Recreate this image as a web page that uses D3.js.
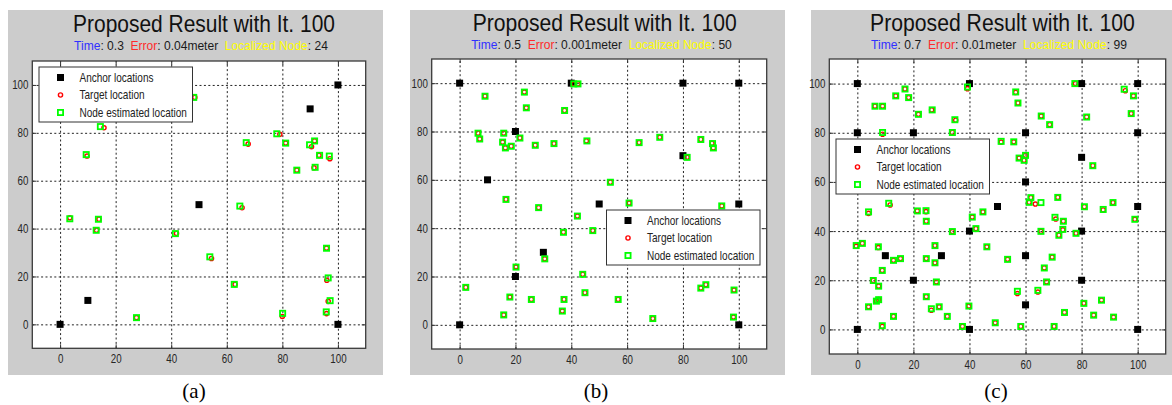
<!DOCTYPE html>
<html>
<head>
<meta charset="utf-8">
<script src="https://cdn.jsdelivr.net/npm/d3@7"></script>
<style>
body{margin:0;background:#fff;}
svg{display:block;font-family:"Liberation Sans",Arial,sans-serif;}
</style>
</head>
<body>
<section></section>
<script>
//axis ticks and legend text
var ticks = [0, 20, 40, 60, 80, 100];
var legendLabels = ["Anchor locations", "Target location", "Node estimated location"];
var captions = ["(a)", "(b)", "(c)"];
var titleText = "Proposed Result with It. 100";
var times = ["0.3", "0.5", "0.7"];
var errors = ["0.04", "0.001", "0.01"];
var localized = ["24", "50", "99"];

//anchor nodes [x, y]
var anchorsA = [[0,0],[10,10],[50,50],[90,90],[100,100],[100,0]];
var anchorsB = [[0,100],[40,100],[80,100],[100,100],[20,80],[10,60],[80,70],[50,50],[100,50],[30,30],[20,20],[0,0],[100,0]];
var anchorsC = [[0,100],[40,100],[80,100],[100,100],[0,80],[20,80],[60,80],[100,80],[80,70],[60,60],[50,50],[100,50],
	[40,40],[80,40],[10,30],[30,30],[60,30],[20,20],[80,20],[60,10],[0,0],[40,0],[100,0]];

//nodes [estimated x, estimated y, target x, target y]
var nodesA = [
	[48.1,94.8,48.5,94.8],[14.5,82.6,15.8,82.1],[9.4,70.9,9.7,70.3],[3.5,44.1,3.5,44.5],[13.8,43.9,14.0,43.9],
	[13.0,39.3,13.1,39.3],[27.5,2.8,27.5,2.8],[41.5,37.9,41.9,38.0],[53.9,28.2,54.5,27.5],[62.7,16.7,63.0,16.7],
	[64.7,49.4,65.5,48.7],[67.0,75.9,67.7,75.3],[78.0,79.6,79.1,79.4],[81.2,75.7,81.2,75.7],[85.2,64.4,85.2,64.4],
	[89.8,75.0,90.5,74.2],[91.6,76.6,91.6,76.6],[93.4,70.6,93.2,70.6],[91.8,65.6,91.4,65.4],[96.9,70.3,97.1,69.2],
	[95.9,31.8,95.9,31.8],[96.5,19.4,96.0,18.4],[97.2,9.9,96.5,9.6],[95.8,5.2,95.9,4.5],[80.1,4.6,80.0,3.3]
];
var nodesB = [
	[9.1,94.6,9.1,94.6],[23.2,96.3,23.2,96.3],[23.9,89.8,23.9,89.8],[37.6,88.7,37.6,88.7],[40.9,99.7,40.9,99.7],
	[42.4,99.7,42.4,99.7],[6.6,79.3,6.6,79.3],[7.2,76.9,7.2,76.9],[15.8,79.3,15.8,79.3],[15.4,75.6,15.4,75.6],
	[16.4,73.2,16.4,73.2],[18.5,73.9,18.5,73.9],[21.6,77.3,21.6,77.3],[27.1,74.3,27.1,74.3],[33.8,75.0,33.8,75.0],
	[45.6,76.1,45.4,76.1],[64.3,75.4,64.3,75.4],[71.7,77.6,71.7,77.6],[86.4,76.7,86.4,76.7],[90.6,75.0,90.4,75.1],
	[90.9,73.2,90.9,73.2],[81.5,69.3,81.5,69.3],[54.0,59.0,54.0,59.0],[60.7,50.4,60.7,50.4],[93.9,49.2,93.9,49.2],
	[16.6,51.9,16.6,51.9],[28.3,48.5,28.3,48.5],[42.2,45.0,42.2,45.0],[37.2,38.3,37.2,38.3],[47.7,39.0,47.7,39.0],
	[30.5,27.3,30.5,27.3],[20.2,23.9,20.2,23.9],[44.1,20.9,44.1,20.9],[2.2,15.5,2.2,15.5],[18.0,11.5,18.0,11.5],
	[25.7,10.5,25.7,10.5],[37.4,10.5,37.4,10.5],[44.9,13.3,44.9,13.3],[56.8,10.5,56.8,10.5],[15.8,4.1,15.8,4.1],
	[36.8,5.7,36.8,5.7],[69.2,2.6,69.2,2.6],[86.4,15.2,86.4,15.2],[88.2,16.6,88.2,16.6],[98.3,14.4,98.3,14.4],
	[98.1,3.2,98.1,3.2]
];
var nodesC = [
	[6.3,90.8,6.3,90.8],[9.0,90.8,9.0,90.8],[13.7,95.0,13.7,95.0],[17.0,97.8,17.0,97.8],[18.3,94.3,18.3,94.3],
	[21.8,87.5,21.8,87.5],[26.7,89.3,26.5,89.3],[9.0,80.1,9.0,79.4],[33.9,80.1,33.9,80.1],[34.8,85.3,35.1,85.1],
	[39.3,98.6,39.3,97.9],[56.5,96.6,56.5,96.4],[57.3,92.1,57.3,92.1],[65.6,86.8,65.6,86.8],[68.6,83.3,68.6,83.3],
	[77.6,100,77.8,100],[81.8,86.4,81.8,86.4],[95.2,97.7,95.6,97.1],[98.5,95.0,98.5,95.0],[97.7,87.8,97.7,87.8],
	[51.3,76.5,51.3,76.2],[55.8,76.3,55.8,76.3],[57.7,69.7,57.7,69.7],[59.5,68.8,59.5,68.8],[60.0,70.8,60.0,70.8],
	[84.0,66.6,84.0,66.6],[11.2,51.3,11.7,50.6],[4.0,47.8,4.0,47.2],[21.4,48.2,21.4,48.2],[24.5,48.3,24.5,47.9],
	[24.6,44.0,24.6,44.0],[61.9,53.6,61.9,53.6],[61.3,51.7,61.3,51.7],[65.5,51.6,63.5,51.0],[71.5,53.7,71.5,53.7],
	[81.0,49.9,81.0,49.9],[87.7,48.8,87.7,48.6],[91.2,51.6,91.2,51.6],[99.0,44.8,99.0,44.8],[44.8,47.8,44.8,47.8],
	[41.0,45.7,41.0,45.7],[42.3,41.0,42.3,41.0],[33.9,39.8,33.9,39.8],[65.5,39.9,65.5,39.9],[70.5,45.6,70.8,44.9],
	[73.5,44.0,73.5,44.0],[73.3,40.7,73.3,40.5],[71.9,38.3,71.9,38.3],[78.0,39.1,78.0,39.1],[-0.4,34.1,-0.4,33.8],
	[1.8,35.0,1.8,35.0],[7.5,33.6,7.5,33.3],[27.7,34.1,27.7,34.1],[12.9,28.1,12.9,28.1],[15.4,28.8,15.4,28.8],
	[24.6,28.8,24.6,28.8],[27.7,27.1,27.7,27.1],[8.9,24.0,8.9,24.0],[5.7,19.9,5.7,19.9],[7.6,17.6,7.6,17.6],
	[28.2,19.3,28.2,19.3],[46.2,33.6,46.2,33.6],[53.6,28.5,53.6,28.5],[69.5,29.4,69.5,29.4],[66.7,25.0,66.7,25.0],
	[67.5,19.3,67.5,19.3],[57.1,15.5,57.1,14.6],[64.4,15.9,64.4,15.2],[4.0,9.2,4.0,9.2],[6.8,11.5,6.8,11.5],
	[7.6,12.1,7.6,12.1],[8.9,1.5,8.9,1.2],[12.9,5.3,12.9,5.3],[24.6,13.3,24.6,13.3],[26.4,8.4,26.4,7.8],
	[29.2,9.2,29.2,9.2],[32.1,5.3,32.1,5.3],[37.5,1.2,37.5,1.2],[39.8,9.5,39.8,9.5],[49.2,2.7,49.2,2.7],
	[58.3,1.2,58.3,1.2],[70.2,1.2,70.2,1.2],[73.9,6.9,73.9,6.9],[80.8,10.6,80.8,10.6],[84.3,5.8,84.3,5.8],
	[87.1,11.9,87.1,11.9],[91.4,5.0,91.4,5.0]
];

//page layout of the three panels (pixels)
var panels = [
	{anchors: anchorsA, nodes: nodesA, bg: [8, 10, 383, 375], frame: [32.3, 61, 365.7, 348.3],
		title: [204, 31.7, 262], sub: [201, 50, 254], legend: [39, 67], cap: 194},
	{anchors: anchorsB, nodes: nodesB, bg: [410, 10, 785, 375], frame: [431.7, 59, 766.7, 349],
		title: [604.7, 31.5, 264], sub: [601.5, 49.5, 261], legend: [606.5, 210], cap: 596},
	{anchors: anchorsC, nodes: nodesC, bg: [811, 10, 1172, 375], frame: [829.3, 59, 1165.7, 354],
		title: [1002.5, 31.5, 265], sub: [999, 49.5, 256], legend: [836, 139], cap: 996}
];

var svg = d3.select("section")
	.append("svg")
	.attr("width", 1172)
	.attr("height", 405);

//squeeze a text horizontally around ax so it is w pixels wide
function squeeze(t, w, ax){
	var len = t.node().getComputedTextLength();
	var k = w / len;
	t.attr("transform", "translate(" + ax + ",0) scale(" + k + ",1) translate(" + (-ax) + ",0)");
	return k;
}

function drawPanel(p, i){
	var g = svg.append("g");
	var f = p.frame;

	g.append("rect")
		.attr("x", p.bg[0]).attr("y", p.bg[1])
		.attr("width", p.bg[2] - p.bg[0]).attr("height", p.bg[3] - p.bg[1])
		.attr("fill", "#cccccc");

	var x = d3.scaleLinear().domain([-10, 110]).range([f[0], f[2]]);
	var y = d3.scaleLinear().domain([-10, 110]).range([f[3], f[1]]);

	g.append("rect")
		.attr("x", f[0]).attr("y", f[1])
		.attr("width", f[2] - f[0]).attr("height", f[3] - f[1])
		.attr("fill", "#fff");

	//dotted grid
	var gx = g.append("g").attr("transform", "translate(0," + f[3] + ")")
		.call(d3.axisBottom(x).tickValues(ticks).tickSize(-(f[3] - f[1])).tickFormat(""));
	var gy = g.append("g").attr("transform", "translate(" + f[0] + ",0)")
		.call(d3.axisLeft(y).tickValues(ticks).tickSize(-(f[2] - f[0])).tickFormat(""));
	[gx, gy].forEach(function(a){
		a.select(".domain").remove();
		a.selectAll("line").attr("stroke", "#222").attr("stroke-dasharray", "2,2.4");
	});

	//markers
	g.append("g").selectAll("rect")
		.data(p.anchors).enter().append("rect")
		.attr("x", function(d){ return x(d[0]) - 3.5; })
		.attr("y", function(d){ return y(d[1]) - 3.5; })
		.attr("width", 7).attr("height", 7)
		.attr("fill", "#000");

	g.append("g").selectAll("circle")
		.data(p.nodes).enter().append("circle")
		.attr("cx", function(d){ return x(d[2]); })
		.attr("cy", function(d){ return y(d[3]); })
		.attr("r", 2.1)
		.attr("fill", "none").attr("stroke", "#ff0000").attr("stroke-width", 1.4);

	g.append("g").selectAll("rect")
		.data(p.nodes).enter().append("rect")
		.attr("x", function(d){ return x(d[0]) - 2.6; })
		.attr("y", function(d){ return y(d[1]) - 2.6; })
		.attr("width", 5.2).attr("height", 5.2)
		.attr("fill", "none").attr("stroke", "#00ff00").attr("stroke-width", 1.8);

	//inward ticks with labels
	var ax = g.append("g").attr("transform", "translate(0," + f[3] + ")")
		.call(d3.axisBottom(x).tickValues(ticks).tickSize(-4).tickPadding(6));
	var ay = g.append("g").attr("transform", "translate(" + f[0] + ",0)")
		.call(d3.axisLeft(y).tickValues(ticks).tickSize(-4).tickPadding(5));
	var at = g.append("g").attr("transform", "translate(0," + f[1] + ")")
		.call(d3.axisTop(x).tickValues(ticks).tickSize(-4).tickFormat(""));
	var ar = g.append("g").attr("transform", "translate(" + f[2] + ",0)")
		.call(d3.axisRight(y).tickValues(ticks).tickSize(-4).tickFormat(""));
	[ax, ay, at, ar].forEach(function(a){
		a.select(".domain").remove();
		a.selectAll("line").attr("stroke", "#333");
		a.selectAll("text").attr("fill", "#262626").attr("font-size", 12.5)
			.attr("font-family", "'Liberation Sans',Arial,sans-serif")
			.attr("transform", "scale(0.78,1)");
	});

	g.append("rect")
		.attr("x", f[0]).attr("y", f[1])
		.attr("width", f[2] - f[0]).attr("height", f[3] - f[1])
		.attr("fill", "none").attr("stroke", "#3a3a3a").attr("stroke-width", 1.3);

	//legend
	var lx = p.legend[0], ly = p.legend[1];
	var lg = g.append("g");
	lg.append("rect")
		.attr("x", lx).attr("y", ly).attr("width", 153.5).attr("height", 55)
		.attr("fill", "#fff").attr("stroke", "#333").attr("stroke-width", 1);
	var rows = [10.5, 28, 45.5];
	lg.append("rect").attr("x", lx + 21.5 - 3.5).attr("y", ly + rows[0] - 3.5)
		.attr("width", 7).attr("height", 7).attr("fill", "#000");
	lg.append("circle").attr("cx", lx + 21.5).attr("cy", ly + rows[1]).attr("r", 2.1)
		.attr("fill", "none").attr("stroke", "#ff0000").attr("stroke-width", 1.4);
	lg.append("rect").attr("x", lx + 21.5 - 2.6).attr("y", ly + rows[2] - 2.6)
		.attr("width", 5.2).attr("height", 5.2)
		.attr("fill", "none").attr("stroke", "#00ff00").attr("stroke-width", 1.8);
	var lt = lg.selectAll("text").data(legendLabels).enter().append("text")
		.attr("x", lx + 40.5)
		.attr("y", function(d, k){ return ly + rows[k] + 4.3; })
		.attr("font-size", 12.5).attr("fill", "#222")
		.text(function(d){ return d; });
	var k = squeeze(d3.select(lt.nodes()[2]), 107.5, lx + 40.5);
	lt.attr("transform", "translate(" + (lx + 40.5) + ",0) scale(" + k + ",1) translate(" + (-(lx + 40.5)) + ",0)");

	//titles
	var t = g.append("text")
		.attr("x", p.title[0]).attr("y", p.title[1])
		.attr("text-anchor", "middle").attr("font-size", 23.5).attr("fill", "#111")
		.text(titleText);
	squeeze(t, p.title[2], p.title[0]);

	var s = g.append("text")
		.attr("x", p.sub[0]).attr("y", p.sub[1])
		.attr("text-anchor", "middle").attr("font-size", 13.5).attr("fill", "#1a1a1a");
	s.append("tspan").attr("fill", "#3030ff").text("Time");
	s.append("tspan").text(": " + times[i] + "\u00a0\u00a0");
	s.append("tspan").attr("fill", "#ff2a2a").text("Error");
	s.append("tspan").text(": " + errors[i] + "meter\u00a0\u00a0");
	s.append("tspan").attr("fill", "#ffff00").text("Localized Node");
	s.append("tspan").text(": " + localized[i]);
	squeeze(s, p.sub[2], p.sub[0]);

	//caption under the panel
	svg.append("text")
		.attr("x", p.cap).attr("y", 398)
		.attr("text-anchor", "middle")
		.attr("font-family", "'Liberation Serif','Times New Roman',serif")
		.attr("font-size", 21).attr("fill", "#000")
		.text(captions[i]);
}

panels.forEach(drawPanel);
</script>
</body>
</html>
